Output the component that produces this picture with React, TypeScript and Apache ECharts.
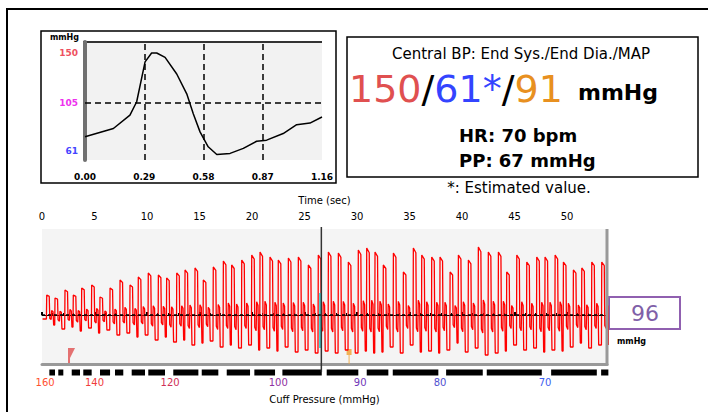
import React, { useEffect, useRef } from "react";
import * as echarts from "echarts";

// ---- Central pulse waveform (top-left panel) ----
const pulseTime = [0, 0.139, 0.22, 0.253, 0.294, 0.326, 0.351, 0.392, 0.449, 0.498, 0.53, 0.563, 0.603, 0.645, 0.71, 0.775, 0.84, 0.889, 0.97, 1.036, 1.101, 1.16];
const pulsePressure = [74, 81.6, 93.7, 105.8, 142, 150, 150, 146, 131, 113, 95, 78.5, 65, 58, 59, 63.5, 70, 71, 77, 85, 86.5, 92];
const pulseGridTimes = [0.29, 0.58, 0.87];
const pulseXLabels = [0, 0.29, 0.58, 0.87, 1.16];
const pulseYLabels = [61, 105, 150];
const pulseYColors = ["#4444ff", "#ee30ee", "#ee5060"];
const mapLevel = 105;

// ---- Oscillometric recording (bottom panel) ----
const beatTimes = [0.45, 1.24, 2.19, 2.98, 3.78, 4.73, 5.52, 6.48, 7.43, 8.38, 9.17, 10.12, 11.08, 11.87, 12.83, 13.62, 14.57, 15.36, 16.31, 17.27, 18.06, 19.02, 19.97, 20.76, 21.71, 22.5, 23.46, 24.41, 25.36, 26.31, 27.27, 28.22, 29.17, 30.12, 30.92, 31.71, 32.5, 33.46, 34.41, 35.36, 36.16, 37.11, 37.9, 38.86, 39.65, 40.6, 41.55, 42.5, 43.46, 44.25, 45.21, 46.16, 47.11, 47.9, 48.86, 49.65, 50.6, 51.4, 52.35, 53.3];
const beatPeaks = [20, 17, 25, 20, 27, 30, 18, 27, 35, 30, 38, 42, 40, 37, 42, 45, 47, 35, 48, 54, 50, 55, 60, 63, 58, 55, 57, 58, 50, 60, 63, 62, 53, 65, 67, 63, 50, 62, 43, 67, 60, 58, 58, 43, 60, 55, 68, 63, 63, 43, 60, 53, 58, 58, 60, 53, 45, 47, 53, 53];
const beatTroughs = [-10, -14, -12, -16, -13, -18, -15, -20, -18, -22, -20, -25, -22, -27, -25, -30, -28, -26, -32, -30, -33, -30, -35, -33, -36, -32, -37, -35, -38, -36, -38, -35, -38, -36, -38, -37, -32, -38, -30, -37, -36, -38, -35, -28, -37, -33, -40, -38, -36, -30, -35, -33, -37, -35, -36, -32, -28, -33, -30, -30];
// within-beat outline: [offset from peak (s), reference level, share of it]
const beatOutline: [number, string, number][] = [
  [-0.03, "prev", 1], [0, "peak", 1], [0.24, "peak", 0.93], [0.29, "trough", 0.35],
  [0.42, "trough", 0.45], [0.47, "peak", 0.22], [0.6, "peak", 0.16], [0.66, "trough", 1],
];
const timeMax = 53.8;
const oscTop = 86;
const oscBottom = -49;
const cursorTime = 26.6;
const cursorSegment = [[26.48, 22], [26.48, -33]];
// vertical rules: [time, from value, to value, colour, width]
const verticalRules: [number, number, number, string, number][] = [
  [cursorTime, 88, -57, "#333", 1.5],
  [timeMax, oscTop, oscBottom - 1.5, "#999", 3],
];
const cuffSteps = [[0.7, 1.24], [1.55, 2.03], [2.83, 3.62], [3.93, 4.73], [5.52, 6.48], [6.95, 7.74], [8.54, 9.81], [10.12, 11.71], [12.5, 14.89], [15.21, 16.79], [17.59, 19.81], [20.22, 22.19], [22.89, 26.64], [27.11, 30.12], [30.92, 32.98], [33.4, 37.74], [38.48, 41.97], [42.35, 47.59], [48.48, 52.83], [53.24, 53.93]];
const cuffLabelTimes = [0.3, 5.0, 12.2, 22.5, 30.3, 37.9, 47.9];
const cuffLabels = ["160", "140", "120", "100", "90", "80", "70"];
const cuffColors = ["#ff5030", "#f03c3c", "#d03058", "#9030a0", "#7038b8", "#5050d0", "#4060f0"];
const markerPoints = [
  { t: 2.81, v: -40.5, color: "#e05050", kind: "flag" },
  { t: 29.24, v: -41.5, color: "#f0a030", kind: "pin" },
];

const FONT = "DejaVu Sans";

export default function App() {
  const ref = useRef<HTMLDivElement>(null);
  useEffect(() => {
    if (!ref.current) return;
    const chart = echarts.init(ref.current, null, { renderer: "svg" });

    const pulseData = pulseTime.map((t, i) => [t, pulsePressure[i]]);
    const osc: number[][] = [[0.05, -4]];
    let prev = -4;
    beatTimes.forEach((tp, i) => {
      const P = beatPeaks[i];
      const T = beatTroughs[i];
      beatOutline.forEach(([dt, lvl, k]) => {
        const base = lvl === "peak" ? P : lvl === "trough" ? T : prev;
        osc.push([tp + dt, base * k]);
      });
      prev = T;
    });

    const option: any = {
      animation: false,
      grid: [
        { left: 85, top: 42, width: 237, height: 118, show: true, backgroundColor: "#f2f2f2", borderWidth: 0 },
        { left: 42, top: 229, width: 565, height: 135, show: true, backgroundColor: "#f4f4f4", borderWidth: 0 },
      ],
      xAxis: [
        {
          gridIndex: 0, type: "value", min: 0, max: 1.16, position: "bottom",
          axisLine: { show: false }, axisTick: { show: false }, splitLine: { show: false },
          axisLabel: {
            customValues: pulseXLabels, formatter: (v: number) => v.toFixed(2),
            fontSize: 9, fontWeight: "bold", fontFamily: FONT, color: "#000", margin: 12,
          },
        },
        {
          gridIndex: 1, type: "value", min: 0, max: timeMax, interval: 5, position: "top", offset: 2,
          name: "Time (sec)", nameLocation: "middle", nameGap: 22,
          nameTextStyle: { fontSize: 10, fontFamily: FONT, color: "#000" },
          axisLine: { lineStyle: { color: "#000", width: 1 } },
          axisTick: { show: true, length: 3, lineStyle: { color: "#000", width: 2 } },
          minorTick: { show: true, splitNumber: 5, length: 2, lineStyle: { color: "#000", width: 1 } },
          splitLine: { show: false },
          axisLabel: { fontSize: 10, fontFamily: FONT, color: "#000", margin: 6, showMaxLabel: false },
        },
        {
          gridIndex: 1, type: "value", min: 0, max: timeMax, position: "bottom",
          name: "Cuff Pressure (mmHg)", nameLocation: "middle", nameGap: 30,
          nameTextStyle: { fontSize: 10, fontFamily: FONT, color: "#000" },
          axisLine: { lineStyle: { color: "#999", width: 3 } },
          axisTick: { show: false }, splitLine: { show: false },
          axisLabel: {
            customValues: cuffLabelTimes,
            formatter: (v: number) => {
              const i = cuffLabelTimes.findIndex((c) => Math.abs(c - Number(v)) < 1e-6);
              return i >= 0 ? cuffLabels[i] : "";
            },
            color: (v: any) => {
              const i = cuffLabelTimes.findIndex((c) => Math.abs(c - Number(v)) < 1e-6);
              return i >= 0 ? cuffColors[i] : "#000";
            },
            fontSize: 10, fontFamily: FONT, margin: 13,
          },
        },
      ],
      yAxis: [
        {
          gridIndex: 0, type: "value", min: 53, max: 160,
          name: "mmHg", nameLocation: "end", nameGap: 1,
          nameTextStyle: { fontSize: 8, fontWeight: "bold", fontFamily: FONT, color: "#000", align: "right", padding: [0, 6, 0, 0] },
          axisLine: { show: true, lineStyle: { color: "#707070", width: 4 } },
          axisTick: { show: false }, splitLine: { show: false },
          axisLabel: {
            customValues: pulseYLabels,
            color: (v: any) => {
              const i = pulseYLabels.indexOf(Number(v));
              return i >= 0 ? pulseYColors[i] : "#000";
            },
            fontSize: 9, fontWeight: "bold", fontFamily: FONT, margin: 7,
          },
        },
        {
          gridIndex: 1, type: "value", min: oscBottom, max: oscTop,
          axisLine: { show: false }, axisTick: { show: false }, axisLabel: { show: false }, splitLine: { show: false },
        },
      ],
      series: [
        {
          type: "line", xAxisIndex: 0, yAxisIndex: 0, data: pulseData, symbol: "none",
          lineStyle: { color: "#000", width: 1.5 }, silent: true,
          markLine: {
            silent: true, symbol: "none", label: { show: false },
            lineStyle: { color: "#000", width: 1.5, type: [6, 4] },
            data: [...pulseGridTimes.map((t) => ({ xAxis: t })), { yAxis: mapLevel }],
          },
        },
        {
          type: "line", xAxisIndex: 1, yAxisIndex: 1, data: osc, symbol: "none",
          lineStyle: { color: "#ff0000", width: 1.3 }, silent: true, clip: true,
        },
        {
          type: "line", xAxisIndex: 1, yAxisIndex: 1, data: cursorSegment, symbol: "none",
          lineStyle: { color: "#40d0d0", width: 2 }, silent: true, clip: false, z: 5,
          markLine: {
            silent: true, symbol: "none", label: { show: false }, z: 6,
            data: [{ yAxis: 0, lineStyle: { color: "#000", width: 1.5, type: [3, 3] } }],
          },
        },
        {
          type: "custom", xAxisIndex: 1, yAxisIndex: 1, data: verticalRules, clip: false, silent: true, z: 7,
          renderItem: (params: any, api: any) => {
            const r = verticalRules[params.dataIndex];
            const a = api.coord([r[0], r[1]]);
            const b = api.coord([r[0], r[2]]);
            return { type: "line", shape: { x1: a[0], y1: a[1], x2: b[0], y2: b[1] }, style: { stroke: r[3], lineWidth: r[4] } };
          },
        },
        {
          type: "custom", xAxisIndex: 1, yAxisIndex: 1, data: cuffSteps, clip: false, silent: true,
          renderItem: (_p: any, api: any) => {
            const s = api.coord([api.value(0), -54.5]);
            const e = api.coord([api.value(1), -60.5]);
            return { type: "rect", shape: { x: s[0], y: s[1], width: e[0] - s[0], height: e[1] - s[1] }, style: { fill: "#000" } };
          },
        },
        {
          type: "scatter", xAxisIndex: 1, yAxisIndex: 1, silent: true, clip: false,
          data: markerPoints.map((m) => ({
            value: [m.t, m.v],
            symbol: m.kind === "flag" ? "path://M0,0 L7,0 L2,10 L2,15 L0,15 Z" : "path://M0,0 L5,0 L5,6 L3,6 L3,15 L2,15 L2,6 L0,6 Z",
            symbolSize: m.kind === "flag" ? [7, 15] : [5, 15],
            itemStyle: { color: m.color },
          })),
        },
      ],
      graphic: [
        { type: "rect", shape: { x: 7, y: 9, width: 760, height: 460 }, style: { fill: "none", stroke: "#000", lineWidth: 2 }, silent: true },
        { type: "rect", shape: { x: 41, y: 31, width: 295, height: 152 }, style: { fill: "none", stroke: "#000", lineWidth: 1.5 }, silent: true },
        { type: "line", shape: { x1: 83, y1: 42, x2: 322, y2: 42 }, style: { stroke: "#333", lineWidth: 2 }, silent: true },
        { type: "rect", shape: { x: 347, y: 37, width: 351, height: 140 }, style: { fill: "#fff", stroke: "#000", lineWidth: 1.5 }, silent: true },
        { type: "text", x: 521, y: 54, style: { text: "Central BP: End Sys./End Dia./MAP", font: `15px "${FONT}"`, fill: "#000", textAlign: "center", textVerticalAlign: "middle" } },
        {
          type: "text", x: 349, y: 89,
          style: {
            text: "{a|150}{b|/}{c|61*}{b|/}{d|91}", textAlign: "left", textVerticalAlign: "middle",
            rich: {
              a: { fontSize: 38, fontFamily: FONT, fill: "#e05050", color: "#e05050" },
              b: { fontSize: 38, fontFamily: FONT, fill: "#000", color: "#000" },
              c: { fontSize: 38, fontFamily: FONT, fill: "#3344ff", color: "#3344ff" },
              d: { fontSize: 38, fontFamily: FONT, fill: "#e89020", color: "#e89020" },
            },
          },
        },
        { type: "text", x: 578, y: 92, style: { text: "mmHg", font: `bold 22px "${FONT}"`, fill: "#000", textAlign: "left", textVerticalAlign: "middle" } },
        { type: "text", x: 459, y: 135, style: { text: "HR: 70 bpm", font: `bold 18px "${FONT}"`, fill: "#000", textAlign: "left", textVerticalAlign: "middle" } },
        { type: "text", x: 459, y: 160, style: { text: "PP: 67 mmHg", font: `bold 18px "${FONT}"`, fill: "#000", textAlign: "left", textVerticalAlign: "middle" } },
        { type: "text", x: 519, y: 188, style: { text: "*: Estimated value.", font: `15px "${FONT}"`, fill: "#000", textAlign: "center", textVerticalAlign: "middle" } },
        { type: "rect", shape: { x: 609, y: 297, width: 71, height: 32 }, style: { fill: "#fff", stroke: "#9060b0", lineWidth: 2 }, silent: true },
        { type: "text", x: 645, y: 313, style: { text: "96", font: `22px "${FONT}"`, fill: "#8060a8", textAlign: "center", textVerticalAlign: "middle" } },
        { type: "text", x: 617, y: 341, style: { text: "mmHg", font: `bold 8px "${FONT}"`, fill: "#000", textAlign: "left", textVerticalAlign: "middle" } },
      ],
    };
    chart.setOption(option);
    return () => chart.dispose();
  }, []);
  return <div ref={ref} style={{ position: "fixed", left: 0, top: 0, width: 708, height: 412, background: "#fff" }} />;
}
